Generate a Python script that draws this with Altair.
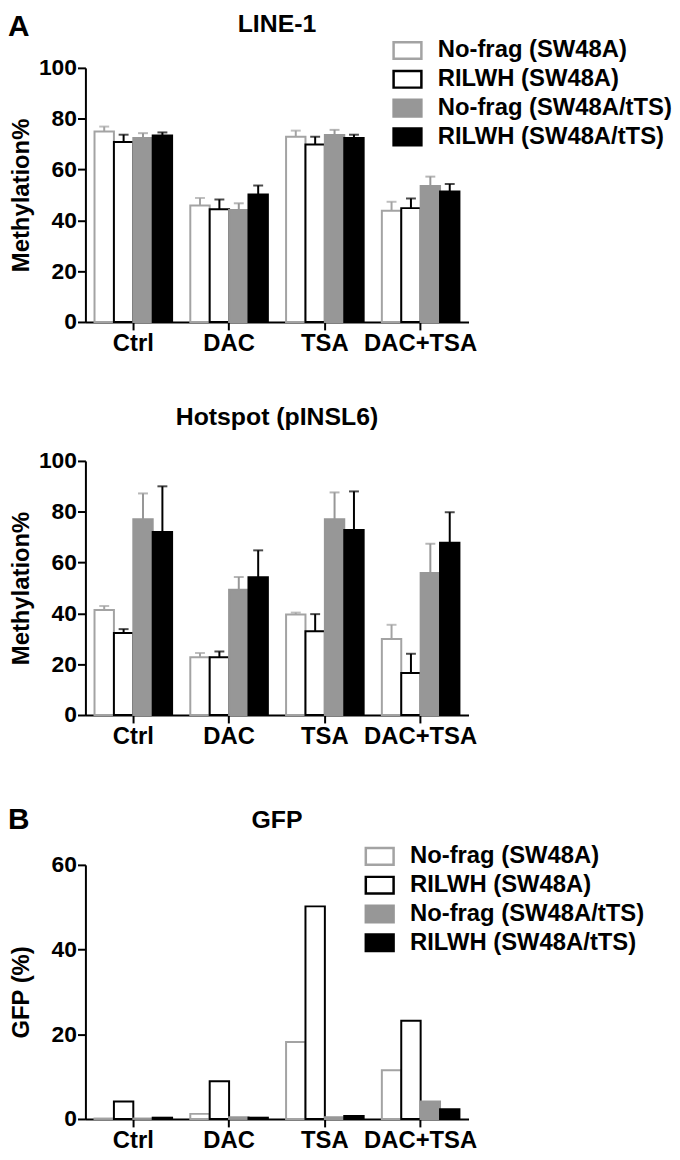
import altair as alt
import pandas as pd

categories = ["Ctrl", "DAC", "TSA", "DAC+TSA"]
series = ["No-frag (SW48A)", "RILWH (SW48A)", "No-frag (SW48A/tTS)", "RILWH (SW48A/tTS)"]

# LINE-1 methylation (%), one list per series, ordered like categories
line1_values = [
    [75.0, 45.8, 72.9, 43.8],
    [70.8, 44.4, 69.8, 44.8],
    [72.4, 44.1, 73.6, 53.5],
    [73.4, 50.2, 72.4, 51.3],
]
line1_errors = [
    [1.9, 3.0, 2.4, 3.5],
    [2.9, 3.8, 3.1, 3.8],
    [1.9, 2.6, 2.0, 3.7],
    [1.2, 3.5, 1.3, 3.0],
]

# Hotspot (pINSL6) methylation (%)
hot_values = [
    [41.3, 22.7, 39.6, 29.9],
    [32.3, 22.7, 33.0, 16.5],
    [77.0, 49.3, 77.0, 55.9],
    [72.0, 54.2, 72.8, 67.8],
]
hot_errors = [
    [1.6, 1.7, 0.7, 5.6],
    [1.5, 2.3, 6.7, 7.6],
    [10.2, 5.0, 10.6, 11.5],
    [18.0, 10.6, 15.2, 12.0],
]

# GFP (%)
gfp_values = [
    [0.1, 1.2, 18.2, 11.5],
    [4.1, 8.9, 50.2, 23.2],
    [0.1, 0.4, 0.4, 4.1],
    [0.3, 0.3, 0.7, 2.3],
]

FILLS = ["#ffffff", "#ffffff", "#979797", "#000000"]
STROKES = ["#a3a3a3", "#000000", "#979797", "#000000"]
FONT = "Liberation Sans"
RECT = "M-1,-0.6L1,-0.6L1,0.6L-1,0.6Z"
W, H = 386, 256


def long_table(values, errors=None):
    rows = []
    for si, s in enumerate(series):
        for ci, c in enumerate(categories):
            row = {"cat": c, "series": s, "value": values[si][ci]}
            if errors is not None:
                row["top"] = values[si][ci] + errors[si][ci]
            rows.append(row)
    return pd.DataFrame(rows)


def panel(values, errors, title, letter, ymax, ytitle, title_pad,
          legend_xy, title_y, letter_y):
    df = long_table(values, errors)
    if legend_xy is None:
        leg = None
    else:
        leg = alt.Legend(
            orient="none", legendX=legend_xy[0], legendY=legend_xy[1],
            title=None, symbolType=RECT, symbolSize=784, symbolStrokeWidth=2.5,
            labelFont=FONT, labelFontSize=24, labelFontWeight="bold",
            labelColor="black", labelOffset=15, rowPadding=0, padding=0,
            labelLimit=400,
        )
    x = alt.X("cat:N", sort=categories,
              scale=alt.Scale(paddingInner=0.19, paddingOuter=0.095),
              axis=alt.Axis(title=None, labelAngle=0, labelOverlap=False,
                            labelPadding=2, labelFontSize=24))
    xo = alt.XOffset("series:N", sort=series,
                     scale=alt.Scale(domain=series, paddingInner=0, paddingOuter=0))
    yscale = alt.Scale(domain=[0, ymax], nice=False)
    yaxis = alt.Axis(values=list(range(0, ymax + 1, 20)), title=ytitle,
                     titlePadding=title_pad, labelPadding=1)
    bars = alt.Chart(df).mark_bar(strokeWidth=2).encode(
        x=x, xOffset=xo,
        y=alt.Y("value:Q", scale=yscale, axis=yaxis),
        fill=alt.Fill("series:N", sort=series,
                      scale=alt.Scale(domain=series, range=FILLS), legend=leg),
        stroke=alt.Stroke("series:N", sort=series,
                          scale=alt.Scale(domain=series, range=STROKES), legend=leg),
    )
    layers = [bars]
    if errors is not None:
        col = alt.Color("series:N", sort=series,
                        scale=alt.Scale(domain=series, range=STROKES), legend=None)
        layers.append(alt.Chart(df).mark_rule(strokeWidth=2).encode(
            x=x, xOffset=xo,
            y=alt.Y("value:Q", scale=yscale, axis=yaxis), y2="top:Q", color=col))
        layers.append(alt.Chart(df).mark_tick(size=10, thickness=2).encode(
            x=x, xOffset=xo,
            y=alt.Y("top:Q", scale=yscale, axis=yaxis), color=col))
    tdf = pd.DataFrame({"text": [title]})
    layers.append(alt.Chart(tdf).mark_text(
        font=FONT, fontSize=25, fontWeight="bold", align="center",
        baseline="middle", color="black").encode(
        text="text:N", x=alt.value(W / 2), y=alt.value(title_y)))
    if letter:
        ldf = pd.DataFrame({"text": [letter]})
        layers.append(alt.Chart(ldf).mark_text(
            font=FONT, fontSize=30, fontWeight="bold", align="left",
            baseline="middle", color="black").encode(
            text="text:N", x=alt.value(-78), y=alt.value(letter_y)))
    return alt.layer(*layers).properties(width=W, height=H)


pA = panel(line1_values, line1_errors, "LINE-1", "A", 100, "Methylation%", 5,
           (309, -33), -44, -41)
pM = panel(hot_values, hot_errors, "Hotspot (pINSL6)", None, 100, "Methylation%", 5,
           None, -44, 0)
pB = panel(gfp_values, None, "GFP", "B", 60, "GFP (%)", 18,
           (281, -24), -45, -45)

inner = alt.vconcat(pA, pM, spacing=50).resolve_scale(
    fill="independent", stroke="independent").resolve_legend(
    fill="independent", stroke="independent")

chart = alt.vconcat(inner, pB, spacing=57).resolve_scale(
    fill="independent", stroke="independent").resolve_legend(
    fill="independent", stroke="independent").properties(padding=0).configure_view(
    stroke=None).configure_axis(
    domainColor="black", domainWidth=2, tickColor="black", tickWidth=2,
    tickSize=8, labelFont=FONT, labelFontSize=23, labelFontWeight="bold",
    labelColor="black", titleFont=FONT, titleFontSize=24, titleFontWeight="bold",
    titleColor="black", grid=False)

chart.save("out.html", embed_options={"renderer": "svg", "actions": False})
